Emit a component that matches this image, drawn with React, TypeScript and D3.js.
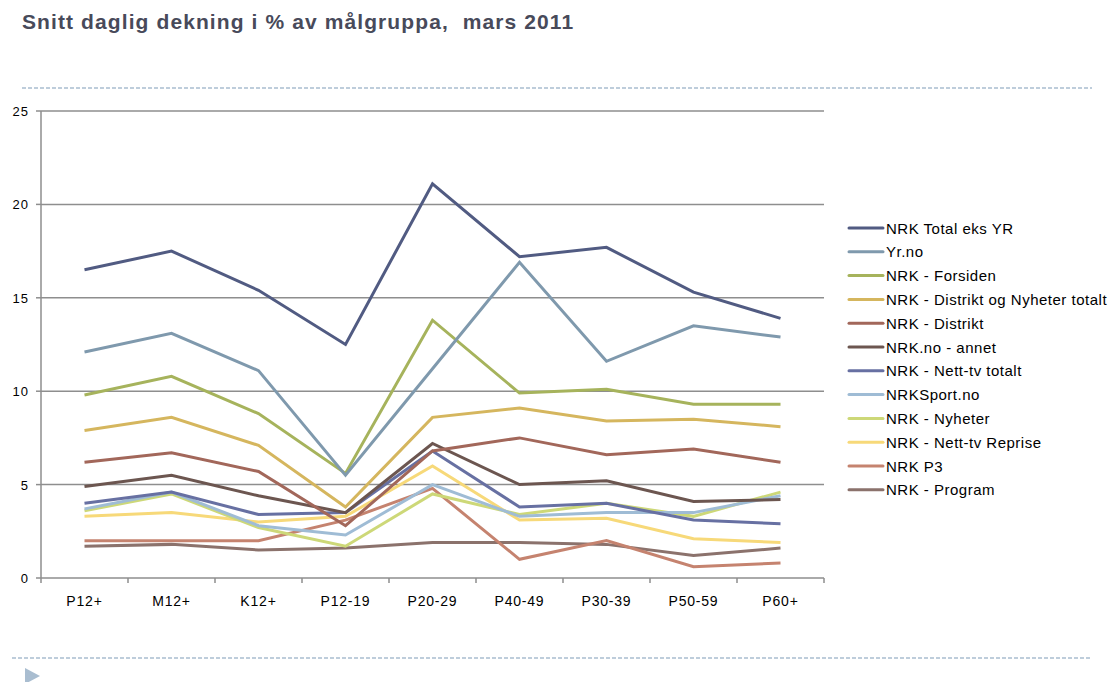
import React from 'react';
import * as d3 from 'd3';

const categories = ['P12+', 'M12+', 'K12+', 'P12-19', 'P20-29', 'P40-49', 'P30-39', 'P50-59', 'P60+'];

const totalEksYr = [16.5, 17.5, 15.4, 12.5, 21.1, 17.2, 17.7, 15.3, 13.9];
const yrNo = [12.1, 13.1, 11.1, 5.5, 11.2, 16.9, 11.6, 13.5, 12.9];
const forsiden = [9.8, 10.8, 8.8, 5.6, 13.8, 9.9, 10.1, 9.3, 9.3];
const distriktNyheter = [7.9, 8.6, 7.1, 3.8, 8.6, 9.1, 8.4, 8.5, 8.1];
const distrikt = [6.2, 6.7, 5.7, 2.8, 6.8, 7.5, 6.6, 6.9, 6.2];
const annet = [4.9, 5.5, 4.4, 3.5, 7.2, 5.0, 5.2, 4.1, 4.2];
const nettTv = [4.0, 4.6, 3.4, 3.5, 6.8, 3.8, 4.0, 3.1, 2.9];
const sport = [3.7, 4.6, 2.8, 2.3, 5.0, 3.3, 3.5, 3.5, 4.4];
const nyheter = [3.6, 4.5, 2.7, 1.7, 4.5, 3.4, 4.0, 3.3, 4.6];
const reprise = [3.3, 3.5, 3.0, 3.3, 6.0, 3.1, 3.2, 2.1, 1.9];
const p3 = [2.0, 2.0, 2.0, 3.1, 4.8, 1.0, 2.0, 0.6, 0.8];
const program = [1.7, 1.8, 1.5, 1.6, 1.9, 1.9, 1.8, 1.2, 1.6];

const yTicks = [0, 5, 10, 15, 20, 25];

const series = [
  { name: 'NRK Total eks YR', values: totalEksYr, color: '#515b82' },
  { name: 'Yr.no', values: yrNo, color: '#7f99ad' },
  { name: 'NRK - Forsiden', values: forsiden, color: '#a6b35c' },
  { name: 'NRK - Distrikt og Nyheter totalt', values: distriktNyheter, color: '#d5b65e' },
  { name: 'NRK - Distrikt', values: distrikt, color: '#a2675a' },
  { name: 'NRK.no - annet', values: annet, color: '#6c5650' },
  { name: 'NRK - Nett-tv totalt', values: nettTv, color: '#6770a2' },
  { name: 'NRKSport.no', values: sport, color: '#9fbcd5' },
  { name: 'NRK - Nyheter', values: nyheter, color: '#cdd878' },
  { name: 'NRK - Nett-tv Reprise', values: reprise, color: '#f7d979' },
  { name: 'NRK P3', values: p3, color: '#c5836f' },
  { name: 'NRK - Program', values: program, color: '#8b726c' }
];

export default function App() {
  const width = 1112;
  const height = 682;
  const left = 41;
  const right = 824;
  const top = 111;
  const bottom = 578;

  const x = d3.scaleBand<string>().domain(categories).range([left, right]);
  const y = d3.scaleLinear().domain([0, 25]).range([bottom, top]);

  const line = d3
    .line<number>()
    .x((_, i) => (x(categories[i]) as number) + x.bandwidth() / 2)
    .y((d) => y(d));

  const font = 'Liberation Sans, Arial, sans-serif';
  const boundaries = categories.map((c) => x(c) as number).concat([right]);

  return (
    <svg width={width} height={height} style={{ position: 'absolute', left: 0, top: 0 }} fontFamily={font}>
      <text x={22} y={29} fontSize={21} fontWeight="bold" fill="#484a5a" letterSpacing={1.1} xmlSpace="preserve" style={{ whiteSpace: 'pre' }}>
        {'Snitt daglig dekning i % av målgruppa,  mars 2011'}
      </text>
      <line x1={22} x2={1092} y1={88} y2={88} stroke="#a9bdd0" strokeWidth={1.5} strokeDasharray="4,2" />
      <line x1={12} x2={1092} y1={658} y2={658} stroke="#a9bdd0" strokeWidth={1.5} strokeDasharray="4,2" />
      <path d="M25,668 L40,676 L25,684 Z" fill="#a9bdd0" />

      {/* grid + y axis */}
      {yTicks.map((t) => (
        <g key={`y-${t}`}>
          {t > 0 && <line x1={left} x2={right} y1={y(t)} y2={y(t)} stroke="#8e8e8e" strokeWidth={1.5} />}
          <line x1={36} x2={left} y1={y(t)} y2={y(t)} stroke="#8e8e8e" strokeWidth={1.5} />
          <text x={29} y={y(t) + 5} fontSize={13} letterSpacing={1} textAnchor="end" fill="#000">
            {t}
          </text>
        </g>
      ))}
      <line x1={left} x2={left} y1={top} y2={bottom} stroke="#8e8e8e" strokeWidth={1.5} />
      <line x1={left} x2={right} y1={bottom} y2={bottom} stroke="#8e8e8e" strokeWidth={1.5} />
      {boundaries.map((b, i) => (
        <line key={`xt-${i}`} x1={b} x2={b} y1={bottom} y2={bottom + 5} stroke="#8e8e8e" strokeWidth={1.5} />
      ))}
      {categories.map((c) => (
        <text key={c} x={(x(c) as number) + x.bandwidth() / 2} y={606} fontSize={14} letterSpacing={0.8} textAnchor="middle" fill="#000">
          {c}
        </text>
      ))}

      {/* lines, first series on top */}
      {series
        .slice()
        .reverse()
        .map((s) => (
          <path key={s.name} d={line(s.values) as string} fill="none" stroke={s.color} strokeWidth={3} strokeLinejoin="miter" />
        ))}

      {/* legend */}
      {series.map((s, i) => {
        const ly = 228 + i * 23.8;
        return (
          <g key={`lg-${s.name}`}>
            <line x1={849} x2={883} y1={ly} y2={ly} stroke={s.color} strokeWidth={3} strokeLinecap="round" />
            <text x={886} y={ly + 5.5} fontSize={15} letterSpacing={0.5} fill="#000">
              {s.name}
            </text>
          </g>
        );
      })}
    </svg>
  );
}
